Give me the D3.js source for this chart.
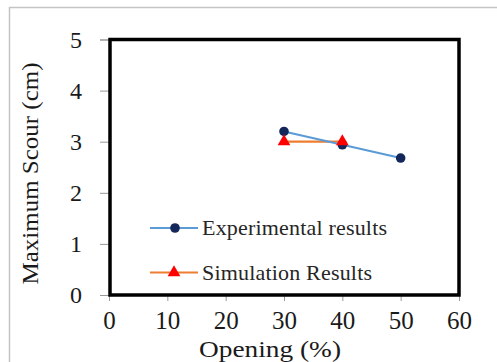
<!DOCTYPE html>
<html><head><meta charset="utf-8">
<script src="https://cdn.jsdelivr.net/npm/d3@7"></script>
<style>body{margin:0;background:#fff;}svg{display:block;}</style>
</head><body>
<script>
const xTicks = [0, 10, 20, 30, 40, 50, 60];
const yTicks = [0, 1, 2, 3, 4, 5];
const expX = [30, 40, 50];
const expY = [3.2, 2.94, 2.68];
const simX = [30, 40];
const simY = [3.0, 3.0];
const seriesNames = ["Experimental results", "Simulation Results"];
const xTitle = "Opening (%)";
const yTitle = "Maximum Scour (cm)";

const W = 497, H = 362;
const svg = d3.select("body").append("svg").attr("width", W).attr("height", H);
const font = "'Liberation Serif','Times New Roman',serif";

// outer frame
svg.append("path").attr("d", `M9.5,${H} V7.5 H${W}`).attr("fill", "none")
  .attr("stroke", "#c4c4c4").attr("stroke-width", 1.5);

const x = d3.scaleLinear().domain([0, 60]).range([109, 459]);
const y = d3.scaleLinear().domain([0, 5]).range([295, 39.5]);

// y axis (gray ticks)
const yAxis = svg.append("g").attr("transform", `translate(${x(0)},0)`)
  .call(d3.axisLeft(y).tickValues(yTicks).tickSize(9).tickPadding(18).tickFormat(d3.format("d")));
yAxis.select(".domain").attr("stroke", "#999");
yAxis.selectAll(".tick line").attr("stroke", "#999");
yAxis.selectAll("text").attr("font-family", font).attr("font-size", 24).attr("fill", "#1a1a1a")
  .attr("dy", "0.33em");

const xAxis = svg.append("g").attr("transform", `translate(0,${y(0)})`)
  .call(d3.axisBottom(x).tickValues(xTicks).tickSize(6).tickPadding(10).tickFormat(d3.format("d")));
xAxis.select(".domain").attr("stroke", "#999");
xAxis.selectAll(".tick line").attr("stroke", "#999");
xAxis.selectAll("text").attr("font-family", font).attr("font-size", 25).attr("fill", "#1a1a1a")
  .attr("dy", "0.71em");

// plot box
svg.append("rect").attr("x", x(0) + 1).attr("y", y(5)).attr("width", x(60) - x(0) - 1).attr("height", y(0) - y(5))
  .attr("fill", "none").attr("stroke", "#000").attr("stroke-width", 3.5);

// series
const expData = expX.map((d, i) => [d, expY[i]]);
const simData = simX.map((d, i) => [d, simY[i]]);
const line = d3.line().x(d => x(d[0])).y(d => y(d[1]));
const tri = d3.symbol().type(d3.symbolTriangle).size(70);

svg.append("path").datum(simData).attr("d", line).attr("fill", "none")
  .attr("stroke", "#ED7D31").attr("stroke-width", 2.2);
svg.append("path").datum(expData).attr("d", line).attr("fill", "none")
  .attr("stroke", "#5B9BD5").attr("stroke-width", 2.2);
svg.selectAll(".ec").data(expData).enter().append("circle")
  .attr("cx", d => x(d[0])).attr("cy", d => y(d[1])).attr("r", 4.8).attr("fill", "#14275A");
svg.selectAll(".st").data(simData).enter().append("path")
  .attr("transform", d => `translate(${x(d[0])},${y(d[1])})`).attr("d", tri).attr("fill", "#FF0000");

// legend
const lg = svg.append("g");
const legY = [228, 272.5];
lg.append("line").attr("x1", 150).attr("x2", 198).attr("y1", legY[0]).attr("y2", legY[0])
  .attr("stroke", "#5B9BD5").attr("stroke-width", 2.2);
lg.append("circle").attr("cx", 175).attr("cy", legY[0]).attr("r", 4.8).attr("fill", "#14275A");
lg.append("line").attr("x1", 150).attr("x2", 198).attr("y1", legY[1]).attr("y2", legY[1])
  .attr("stroke", "#ED7D31").attr("stroke-width", 2.2);
lg.append("path").attr("transform", `translate(174,${legY[1]})`).attr("d", tri).attr("fill", "#FF0000");
lg.selectAll("text").data(seriesNames).enter().append("text")
  .attr("x", 202).attr("y", (d, i) => legY[i] + 7)
  .attr("font-family", font).attr("font-size", 22).attr("fill", "#262626")
  .attr("textLength", (d, i) => i === 0 ? 185 : 170).attr("lengthAdjust", "spacing")
  .text(d => d);

// titles
svg.append("text").attr("x", 270).attr("y", 356.5).attr("text-anchor", "middle")
  .attr("font-family", font).attr("font-size", 24).attr("fill", "#1a1a1a")
  .attr("textLength", 142).attr("lengthAdjust", "spacingAndGlyphs").text(xTitle);
svg.append("text").attr("transform", "translate(38,173.5) rotate(-90)").attr("text-anchor", "middle")
  .attr("font-family", font).attr("font-size", 24).attr("fill", "#1a1a1a")
  .attr("textLength", 222).attr("lengthAdjust", "spacingAndGlyphs").text(yTitle);
</script>
</body></html>
